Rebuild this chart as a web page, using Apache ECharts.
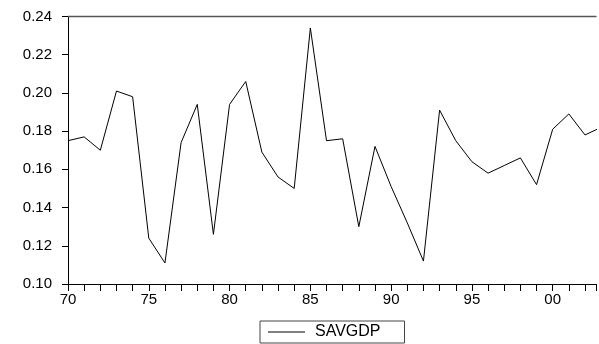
<!DOCTYPE html>
<html><head><meta charset="utf-8">
<script src="https://cdn.jsdelivr.net/npm/echarts@6/dist/echarts.min.js"></script>
<style>html,body{margin:0;padding:0;background:#fff}#c{width:599px;height:344px}</style>
</head><body><div id="c"></div>
<script>
const years = [1970,1971,1972,1973,1974,1975,1976,1977,1978,1979,1980,1981,1982,1983,1984,1985,1986,1987,1988,1989,1990,1991,1992,1993,1994,1995,1996,1997,1998,1999,2000,2001,2002,2003];
const savgdp = [0.175,0.177,0.170,0.201,0.198,0.124,0.111,0.174,0.194,0.126,0.194,0.206,0.169,0.156,0.150,0.234,0.175,0.176,0.130,0.172,0.151,0.132,0.112,0.191,0.175,0.164,0.158,0.162,0.166,0.152,0.181,0.189,0.178,0.182];
const yTicks = ['0.10','0.12','0.14','0.16','0.18','0.20','0.22','0.24'];
const seriesName = 'SAVGDP';
const font = 'Liberation Sans, Arial, sans-serif';
const chart = echarts.init(document.getElementById('c'), null, {renderer:'canvas'});
chart.setOption({
  animation:false,
  backgroundColor:'#fff',
  grid:{left:68,right:0,top:16.5,bottom:60,show:false},
  legend:{
    data:[{name:seriesName,icon:'rect'}], left:260, top:321, orient:'horizontal',
    borderColor:'#444', borderWidth:1, padding:[3,24,3,8],
    itemWidth:37, itemHeight:1, itemGap:0,
    itemStyle:{color:'#000',borderWidth:0},
    textStyle:{fontFamily:font,fontSize:16,color:'#000',padding:[0,0,0,5]}
  },
  xAxis:[{
    type:'value', min:1970, max:2002.68, interval:5, position:'bottom',
    axisLine:{show:true,onZero:false,lineStyle:{color:'#000',width:1}},
    axisTick:{show:true,inside:false,length:7,lineStyle:{color:'#000',width:1}},
    minorTick:{show:true,splitNumber:5,length:7,lineStyle:{color:'#000',width:1}},
    axisLabel:{formatter:function(v){return (Math.abs(v-Math.round(v))<1e-6 && Math.round(v)%5===0)?String(Math.round(v)).slice(2):'';},
      fontFamily:font,fontSize:15,color:'#000',margin:8,showMaxLabel:true,hideOverlap:false},
    splitLine:{show:false}
  },{
    type:'value', position:'top', min:1970, max:2002.68,
    axisLine:{show:true,onZero:false,lineStyle:{color:'#555',width:1.3}},
    axisTick:{show:false}, axisLabel:{show:false}, splitLine:{show:false}
  }],
  yAxis:{
    type:'value', min:0.10, max:0.24, interval:0.02,
    axisLine:{show:true,lineStyle:{color:'#000',width:1}},
    axisTick:{show:true,inside:false,length:6,lineStyle:{color:'#000'}},
    axisLabel:{formatter:function(v){return yTicks[Math.round((v-0.10)/0.02)];},fontFamily:font,fontSize:15,color:'#000',margin:16},
    splitLine:{show:false}
  },
  series:[{
    name:seriesName, type:'line', xAxisIndex:0, data:years.map(function(y,i){return [y,savgdp[i]];}),
    showSymbol:false, symbol:'none', clip:true,
    lineStyle:{color:'#000',width:1}, itemStyle:{color:'#000'}
  }]
});
</script></body></html>
